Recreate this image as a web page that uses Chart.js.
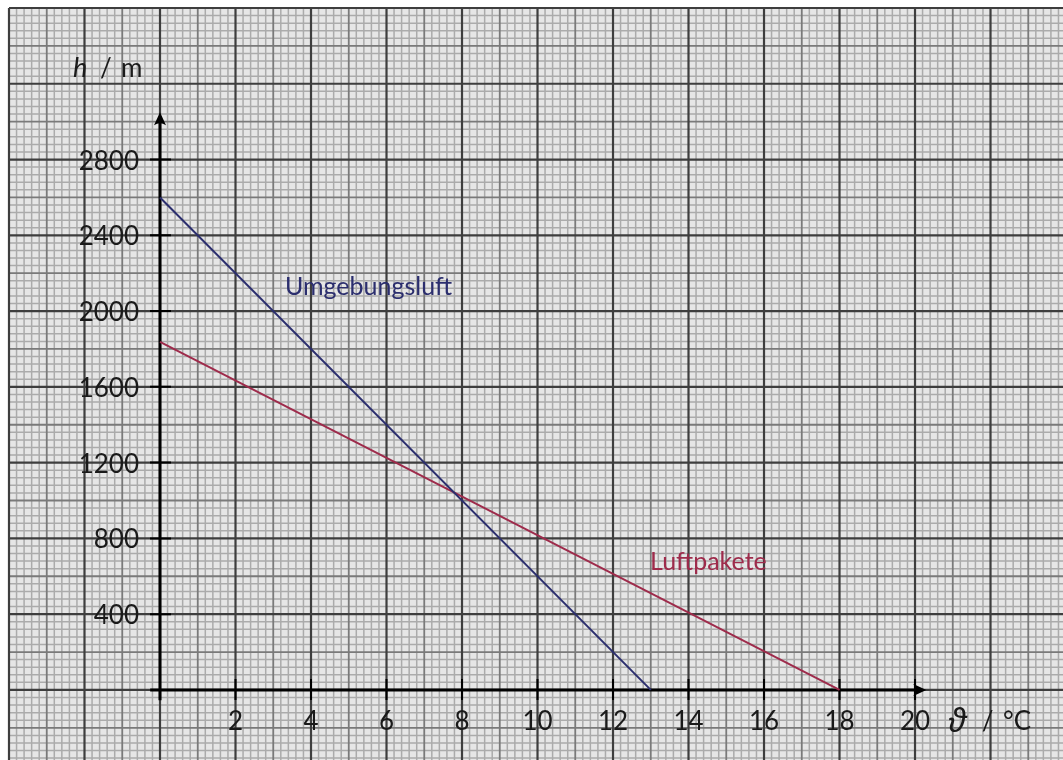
<!DOCTYPE html>
<html>
<head>
<meta charset="utf-8">
<script src="https://cdn.jsdelivr.net/npm/chart.js@4"></script>
<style>
  body { margin: 0; background: #fff; }
  canvas { display: block; }
</style>
</head>
<body>
<canvas id="chart" width="1063" height="760"></canvas>
<script>
// temperature (°C) and height (m) of the two lines
const tempUmgebung = [0, 13]
const hoeheUmgebung = [2600, 0]
const tempPaket = [0, 18]
const hoehePaket = [1837, 0]

const xTickValues = [2, 4, 6, 8, 10, 12, 14, 16, 18, 20]
const yTickValues = [400, 800, 1200, 1600, 2000, 2400, 2800]

const blue = '#2b2e6e'
const red = '#9e2b4b'
const labelFont = '26px Lato'

function toPoints (xs, ys) {
    return xs.map((x, i) => ({ x: x, y: ys[i] }))
}

// millimetre paper: 0.2 °C / 40 m minor, 1 °C / 200 m medium, 2 °C / 400 m major
const graphPaper = {
    id: 'graphPaper',
    beforeDatasetsDraw (chart) {
        const ctx = chart.ctx
        const area = chart.chartArea
        const xs = chart.scales.x
        const ys = chart.scales.y
        ctx.save()
        ctx.fillStyle = '#e6e6e6'
        ctx.fillRect(area.left, area.top, area.right - area.left, area.bottom - area.top)

        const levels = [
            { color: '#ababab', width: 1.5 },
            { color: '#7a7a7a', width: 1.8 },
            { color: '#3e3e3e', width: 2.2 }
        ]
        const levelOf = (k) => (k % 10 === 0 ? 2 : (k % 5 === 0 ? 1 : 0))

        levels.forEach((lv, n) => {
            ctx.strokeStyle = lv.color
            ctx.lineWidth = lv.width
            ctx.beginPath()
            for (let k = Math.ceil(xs.min * 5); k <= Math.floor(xs.max * 5); k++) {
                if (levelOf(Math.abs(k)) !== n) continue
                const px = xs.getPixelForValue(k / 5)
                ctx.moveTo(px, area.top)
                ctx.lineTo(px, area.bottom)
            }
            for (let k = Math.ceil(ys.min / 40); k <= Math.floor(ys.max / 40); k++) {
                if (levelOf(Math.abs(k)) !== n) continue
                const py = ys.getPixelForValue(k * 40)
                ctx.moveTo(area.left, py)
                ctx.lineTo(area.right, py)
            }
            ctx.stroke()
        })
        ctx.restore()

        drawAxes(chart)
    }
}

function drawAxes (chart) {
    const ctx = chart.ctx
    const xs = chart.scales.x
    const ys = chart.scales.y
    const x0 = xs.getPixelForValue(0)
    const y0 = ys.getPixelForValue(0)
    const xEnd = xs.getPixelForValue(20.3)
    const yEnd = ys.getPixelForValue(3050)

    ctx.save()
    ctx.strokeStyle = '#000'
    ctx.fillStyle = '#000'
    ctx.lineWidth = 3
    ctx.beginPath()
    ctx.moveTo(xs.getPixelForValue(-0.26), y0)
    ctx.lineTo(xEnd - 6, y0)
    ctx.moveTo(x0, ys.getPixelForValue(-55))
    ctx.lineTo(x0, yEnd + 6)
    ctx.stroke()

    // arrow heads
    ctx.beginPath()
    ctx.moveTo(xEnd, y0)
    ctx.lineTo(xEnd - 13, y0 - 6)
    ctx.quadraticCurveTo(xEnd - 9, y0, xEnd - 13, y0 + 6)
    ctx.closePath()
    ctx.fill()
    ctx.beginPath()
    ctx.moveTo(x0, yEnd)
    ctx.lineTo(x0 - 6, yEnd + 13)
    ctx.quadraticCurveTo(x0, yEnd + 9, x0 + 6, yEnd + 13)
    ctx.closePath()
    ctx.fill()

    // cross ticks
    ctx.lineWidth = 2
    ctx.beginPath()
    xTickValues.forEach(v => {
        const px = xs.getPixelForValue(v)
        ctx.moveTo(px, y0 - 11)
        ctx.lineTo(px, y0 + 10)
    })
    yTickValues.forEach(v => {
        const py = ys.getPixelForValue(v)
        ctx.moveTo(x0 - 10, py)
        ctx.lineTo(x0 + 11, py)
    })
    ctx.stroke()

    // tick labels
    ctx.fillStyle = '#1a1a1a'
    ctx.font = labelFont
    ctx.textBaseline = 'alphabetic'
    ctx.textAlign = 'center'
    xTickValues.forEach(v => {
        ctx.fillText(String(v), xs.getPixelForValue(v), y0 + 40)
    })
    ctx.textAlign = 'right'
    yTickValues.forEach(v => {
        ctx.fillText(String(v), x0 - 21, ys.getPixelForValue(v) + 10)
    })

    // axis titles
    ctx.textAlign = 'left'
    ctx.font = 'italic 27px Lato'
    ctx.fillText('h', x0 - 87, 77)
    ctx.font = labelFont
    ctx.fillText('/', x0 - 60, 77)
    ctx.fillText('m', x0 - 39, 77)

    ctx.font = 'italic 32px "Noto Sans"'
    ctx.fillText('\u03D1', xs.getPixelForValue(20.88), y0 + 42)
    ctx.font = labelFont
    ctx.fillText('/', xs.getPixelForValue(21.77), y0 + 40)
    ctx.fillText('°C', xs.getPixelForValue(22.33), y0 + 40)
    ctx.restore()
}

// line names next to the lines
const lineLabels = {
    id: 'lineLabels',
    afterDatasetsDraw (chart) {
        const ctx = chart.ctx
        const xs = chart.scales.x
        const ys = chart.scales.y
        ctx.save()
        ctx.font = '25px Lato'
        ctx.textAlign = 'left'
        ctx.textBaseline = 'alphabetic'
        ctx.fillStyle = blue
        ctx.fillText('Umgebungsluft', xs.getPixelForValue(3.31), ys.getPixelForValue(2087))
        ctx.fillStyle = red
        ctx.fillText('Luftpakete', xs.getPixelForValue(12.98), ys.getPixelForValue(634))
        ctx.restore()
    }
}

const chart = new Chart(document.getElementById('chart'), {
    type: 'scatter',
    data: {
        datasets: [{
            label: 'Umgebungsluft',
            data: toPoints(tempUmgebung, hoeheUmgebung),
            showLine: true,
            borderColor: blue,
            borderWidth: 2,
            pointRadius: 0
        }, {
            label: 'Luftpakete',
            data: toPoints(tempPaket, hoehePaket),
            showLine: true,
            borderColor: red,
            borderWidth: 2,
            pointRadius: 0
        }]
    },
    options: {
        responsive: false,
        devicePixelRatio: 1,
        animation: false,
        layout: { padding: { left: 9, top: 8, right: 0, bottom: 0 } },
        plugins: {
            legend: { display: false },
            tooltip: { enabled: false }
        },
        scales: {
            x: { type: 'linear', display: false, min: -4, max: 23.92 },
            y: { type: 'linear', display: false, min: -370, max: 3600 }
        }
    },
    plugins: [graphPaper, lineLabels]
})
</script>
</body>
</html>
